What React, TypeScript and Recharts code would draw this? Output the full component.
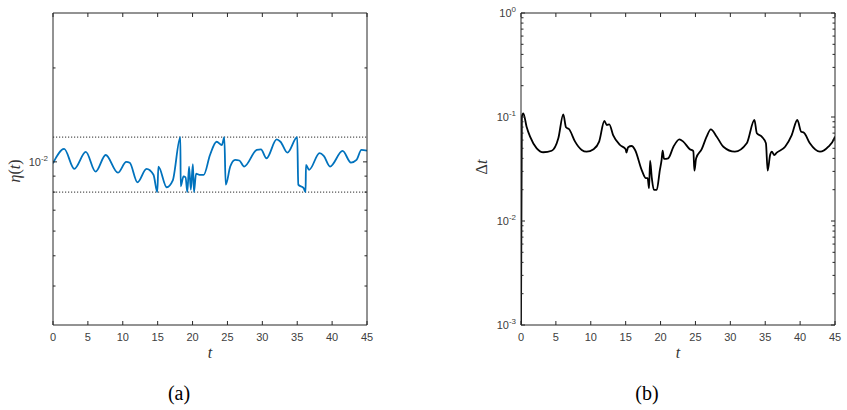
import React from "react";
import { LineChart, Line, XAxis, YAxis, ReferenceLine } from "recharts";

// ---- Panel (a): eta(t) ----
const etaT = [0, 1.6, 3.05, 4.7, 6.1, 7.55, 9.3, 10.5, 11.0, 12.1, 13.4, 14.4, 14.95, 15.1, 16.3, 17.15, 18.25, 18.3, 18.7, 19.0, 19.25, 19.5, 19.75, 20.05, 20.2, 20.5, 21.0, 21.6, 22.5, 23.45, 24.2, 24.55, 24.75, 25.4, 26.1, 26.7, 27.4, 29.2, 29.8, 30.6, 32.05, 32.6, 33.6, 35.0, 35.15, 35.9, 36.2, 36.25, 36.7, 38.2, 38.8, 39.7, 41.5, 42.7, 43.5, 44.2, 45];
const etaV = [0.0099, 0.011, 0.0095, 0.01076, 0.0093, 0.01052, 0.00923, 0.01, 0.00993, 0.0086, 0.0095, 0.00909, 0.008, 0.00966, 0.00829, 0.0087, 0.012, 0.00835, 0.00898, 0.00892, 0.008, 0.00966, 0.00815, 0.00983, 0.008, 0.00916, 0.00909, 0.00909, 0.01052, 0.0116, 0.01132, 0.012, 0.00845, 0.00966, 0.01015, 0.0101, 0.00966, 0.01092, 0.01097, 0.01027, 0.0118, 0.0116, 0.0107, 0.012, 0.00845, 0.00825, 0.008, 0.00978, 0.00943, 0.01066, 0.01045, 0.00966, 0.01084, 0.00995, 0.01015, 0.01092, 0.01086];
const etaBounds = [0.012, 0.008];
const etaTicks = [0.004, 0.005, 0.006, 0.007, 0.008, 0.009, 0.01, 0.02];
const etaLabelled = [0.01];

// ---- Panel (b): Delta t ----
const dtT = [0, 0.12, 0.33, 0.8, 1.3, 2.25, 3.2, 4.4, 5.35, 6.06, 6.45, 6.9, 7.75, 8.7, 9.4, 10.4, 11.2, 11.95, 12.3, 12.65, 13.2, 14.2, 15.0, 15.1, 15.35, 15.85, 16.35, 17.3, 17.9, 18.15, 18.35, 18.5, 18.75, 19.05, 19.45, 19.9, 20.15, 20.3, 20.5, 21.1, 21.85, 22.7, 23.25, 24.2, 24.7, 24.85, 25.1, 25.9, 26.6, 27.2, 28.05, 29.0, 30.65, 32.35, 33.45, 33.8, 34.5, 35.1, 35.35, 35.7, 35.95, 36.3, 36.65, 37.85, 38.8, 39.6, 40.15, 40.55, 41.4, 42.85, 44.05, 44.9, 45];
const dtV = [0.001, 0.1, 0.1085, 0.0807, 0.0647, 0.05, 0.0458, 0.0474, 0.0624, 0.106, 0.0796, 0.0762, 0.058, 0.0482, 0.0464, 0.049, 0.058, 0.0915, 0.0838, 0.085, 0.0671, 0.0538, 0.0489, 0.0454, 0.0512, 0.0526, 0.0482, 0.0309, 0.0258, 0.0258, 0.0206, 0.038, 0.0258, 0.0199, 0.0199, 0.0309, 0.0387, 0.0474, 0.0395, 0.0401, 0.0518, 0.061, 0.058, 0.049, 0.047, 0.0305, 0.0401, 0.049, 0.0647, 0.0762, 0.0647, 0.0518, 0.0464, 0.0558, 0.0936, 0.0697, 0.0647, 0.0558, 0.0305, 0.0431, 0.0464, 0.0431, 0.0454, 0.0518, 0.0671, 0.0936, 0.0722, 0.0707, 0.0558, 0.0464, 0.0518, 0.0624, 0.065];
const dtTicks = [0.001, 0.002, 0.003, 0.004, 0.005, 0.006, 0.007, 0.008, 0.009, 0.01, 0.02, 0.03, 0.04, 0.05, 0.06, 0.07, 0.08, 0.09, 0.1, 0.2, 0.3, 0.4, 0.5, 0.6, 0.7, 0.8, 0.9, 1];
const dtLabelled = [0.001, 0.01, 0.1, 1];

const tTicks = [0, 5, 10, 15, 20, 25, 30, 35, 40, 45];

const etaData = etaT.map((t, i) => ({ t, v: etaV[i] }));
const dtData = dtT.map((t, i) => ({ t, v: dtV[i] }));

const AX = "#262626";
const TXT = "#404040";
const SANS = "'Liberation Sans', Arial, Helvetica, sans-serif";
const SERIF = "'Liberation Serif', 'Times New Roman', serif";

const isIn = (v: number, arr: number[]) => arr.some((a) => Math.abs(a - v) / a < 1e-6);

const Pow10 = ({ x, y, v }: { x: number; y: number; v: number }) => {
  const e = Math.round(Math.log10(v));
  return (
    <text x={x} y={y + 4} textAnchor="end" fontFamily={SANS} fontSize={11} fill={TXT}>
      <tspan>10</tspan>
      <tspan dy={-5} fontSize={8}>{String(e)}</tspan>
    </text>
  );
};

const bottomTick = (props: any) => {
  const { x, y, payload } = props;
  return (
    <g>
      <line x1={x} x2={x} y1={y} y2={y - 4} stroke={AX} strokeWidth={1} />
      <text x={x} y={y + 16} textAnchor="middle" fontFamily={SANS} fontSize={11} fill={TXT}>
        {payload.value}
      </text>
    </g>
  );
};

const topTick = (props: any) => {
  const { x, y } = props;
  return <line x1={x} x2={x} y1={y} y2={y + 4} stroke={AX} strokeWidth={1} />;
};

const makeLeftTick = (labelled: number[]) => (props: any) => {
  const { x, y, payload } = props;
  const major = isIn(payload.value, labelled);
  return (
    <g>
      <line x1={x} x2={x + (major ? 4 : 2.5)} y1={y} y2={y} stroke={AX} strokeWidth={1} />
      {major ? <Pow10 x={x - 5} y={y} v={payload.value} /> : null}
    </g>
  );
};

const makeRightTick = (labelled: number[]) => (props: any) => {
  const { x, y, payload } = props;
  const major = isIn(payload.value, labelled);
  return <line x1={x} x2={x - (major ? 4 : 2.5)} y1={y} y2={y} stroke={AX} strokeWidth={1} />;
};

const abs = (left: number, top: number, extra: React.CSSProperties = {}): React.CSSProperties => ({
  position: "absolute",
  left,
  top,
  transform: "translate(-50%, -50%)",
  whiteSpace: "nowrap",
  lineHeight: 1,
  ...extra,
});

const Panel = ({ data, domain, ticks, labelled, color, margin, width, children }: any) => (
  <LineChart width={width} height={410} data={data} margin={margin}>
    <XAxis
      xAxisId="b"
      dataKey="t"
      type="number"
      domain={[0, 45]}
      ticks={tTicks}
      height={1}
      tickSize={0}
      tickMargin={0}
      tickLine={false}
      axisLine={{ stroke: AX }}
      tick={bottomTick}
      interval={0}
      allowDataOverflow
    />
    <XAxis
      xAxisId="t"
      orientation="top"
      dataKey="t"
      type="number"
      domain={[0, 45]}
      ticks={tTicks}
      height={1}
      tickSize={0}
      tickMargin={0}
      tickLine={false}
      axisLine={{ stroke: AX }}
      tick={topTick}
      interval={0}
      allowDataOverflow
    />
    <YAxis
      yAxisId="l"
      type="number"
      scale="log"
      domain={domain}
      ticks={ticks}
      width={1}
      tickSize={0}
      tickMargin={0}
      tickLine={false}
      axisLine={{ stroke: AX }}
      tick={makeLeftTick(labelled)}
      interval={0}
      allowDataOverflow
    />
    <YAxis
      yAxisId="r"
      orientation="right"
      type="number"
      scale="log"
      domain={domain}
      ticks={ticks}
      width={1}
      tickSize={0}
      tickMargin={0}
      tickLine={false}
      axisLine={{ stroke: AX }}
      tick={makeRightTick(labelled)}
      interval={0}
      allowDataOverflow
    />
    {children}
    <Line
      xAxisId="b"
      yAxisId="l"
      dataKey="v"
      type="monotone"
      stroke={color}
      strokeWidth={1.8}
      dot={false}
      isAnimationActive={false}
    />
  </LineChart>
);

export default function App() {
  return (
    <div style={{ position: "absolute", left: 0, top: 0, width: 847, height: 410, background: "#fff", overflow: "hidden" }}>
      <div style={{ position: "absolute", left: 0, top: 0 }}>
        <Panel
          data={etaData}
          domain={[0.003, 0.03]}
          ticks={etaTicks}
          labelled={etaLabelled}
          color="#0072BD"
          width={420}
          margin={{ top: 12, right: 52, bottom: 84, left: 52 }}
        >
          {etaBounds.map((b) => (
            <ReferenceLine key={b} xAxisId="b" yAxisId="l" y={b} stroke="#555" strokeWidth={1.2} strokeDasharray="1.2 1.8" />
          ))}
        </Panel>
      </div>
      <div style={{ position: "absolute", left: 420, top: 0 }}>
        <Panel
          data={dtData}
          domain={[0.001, 1]}
          ticks={dtTicks}
          labelled={dtLabelled}
          color="#000000"
          width={427}
          margin={{ top: 12, right: 11, bottom: 84, left: 100 }}
        />
      </div>
      <div style={abs(15, 171, { transform: "translate(-50%, -50%) rotate(-90deg)", fontFamily: SERIF, fontSize: 16, color: "#333" })}>
        <i>η</i>(<i>t</i>)
      </div>
      <div style={abs(482, 167, { transform: "translate(-50%, -50%) rotate(-90deg)", fontFamily: SERIF, fontSize: 16, color: "#333" })}>
        Δ<i>t</i>
      </div>
      <div style={abs(210, 353, { fontFamily: SERIF, fontStyle: "italic", fontSize: 16, color: "#333" })}>t</div>
      <div style={abs(678, 353, { fontFamily: SERIF, fontStyle: "italic", fontSize: 16, color: "#333" })}>t</div>
      <div style={abs(179, 393, { fontFamily: SERIF, fontSize: 20, color: "#000" })}>(a)</div>
      <div style={abs(647, 393, { fontFamily: SERIF, fontSize: 20, color: "#000" })}>(b)</div>
    </div>
  );
}
